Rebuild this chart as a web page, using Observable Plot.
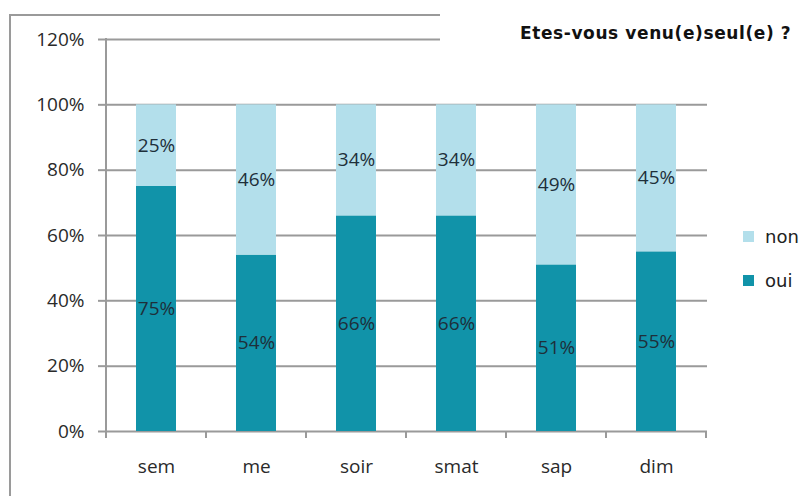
<!DOCTYPE html>
<html><head><meta charset="utf-8">
<script src="https://cdn.jsdelivr.net/npm/d3@7"></script>
<script src="https://cdn.jsdelivr.net/npm/@observablehq/plot@0.6"></script>
<style>
body{margin:0;background:#fff;}
#wrap{position:relative;width:812px;height:496px;overflow:hidden;font-family:"Open Sans",sans-serif;}
#frame{position:absolute;left:9px;top:14px;width:440px;height:490px;border-left:2px solid #9a9a9a;border-top:2px solid #9a9a9a;}
#mask{position:absolute;left:440px;top:0;width:372px;height:62px;background:#fff;}
#title{position:absolute;left:520px;top:23px;font:bold 17px "DejaVu Sans",sans-serif;color:#111;white-space:nowrap;letter-spacing:0.6px;}
.leg{position:absolute;left:743px;font:18px "DejaVu Sans",sans-serif;color:#222;display:flex;align-items:center;}
.leg span{display:inline-block;width:11px;height:11px;margin-right:11px;}
#chart{position:absolute;left:0;top:0;}
</style></head>
<body><div id="wrap"><div id="frame"></div><div id="chart"></div>
<div id="mask"></div>
<div id="title">Etes-vous venu(e)seul(e) ?</div>
<div class="leg" style="top:226px"><span style="background:#b3dfeb"></span>non</div>
<div class="leg" style="top:270px"><span style="background:#1193a9"></span>oui</div>
</div>
<script>
const categories = ["sem","me","soir","smat","sap","dim"];
const oui = [75,54,66,66,51,55];
const non = [25,46,34,34,49,45];
const yTicks = [0,20,40,60,80,100,120];
const series = ["oui","non"];
const colors = ["#1193a9","#b3dfeb"];

const data = [];
categories.forEach((c,i)=>{
  data.push({cat:c,type:"oui",value:oui[i]});
  data.push({cat:c,type:"non",value:non[i]});
});

const chart = Plot.plot({
  width:812,height:496,
  marginLeft:105,marginRight:105,marginTop:39,marginBottom:65,
  style:{fontFamily:"'Open Sans',sans-serif",fontSize:"19px",color:"#333",background:"transparent"},
  x:{domain:categories,paddingInner:0.6,paddingOuter:0.3,label:null,axis:null},
  y:{domain:[0,120],label:null,axis:null},
  color:{domain:series,range:colors},
  marks:[
    Plot.gridY(yTicks,{stroke:"#9a9a9a",strokeOpacity:1,strokeWidth:2}),
    Plot.barY(data,{x:"cat",y:"value",fill:"type",z:"type",order:series}),
    Plot.text(data,Plot.stackY({x:"cat",y:"value",z:"type",order:series,text:d=>d.value+"%",fill:"#1e2f3a",fontSize:19})),
    Plot.axisY(yTicks,{tickFormat:d=>d+"%",tickSize:7,tickPadding:14,stroke:"#9a9a9a",strokeWidth:2,fontSize:19,fill:"#2a2a2a"}),
    Plot.axisX({tickSize:0,tickPadding:28,fontSize:19,fill:"#2a2a2a"})
  ]
});
document.getElementById("chart").appendChild(chart);

// axis line and x-axis boundary ticks via the band scale
const xs = chart.scale("x");
const svg = d3.select(chart);
const bw = xs.step;
const x0 = xs.apply(categories[0]) - (bw - xs.bandwidth)/2;
const ys = chart.scale("y");
const yb = ys.apply(0), yt = ys.apply(120);
svg.append("line").attr("x1",x0).attr("x2",x0).attr("y1",yt-1).attr("y2",yb)
  .attr("stroke","#9a9a9a").attr("stroke-width",2);
svg.append("g").selectAll("line").data(d3.range(categories.length+1)).join("line")
  .attr("x1",i=>x0+i*bw).attr("x2",i=>x0+i*bw).attr("y1",yb).attr("y2",yb+7)
  .attr("stroke","#9a9a9a").attr("stroke-width",2);
</script></body></html>
